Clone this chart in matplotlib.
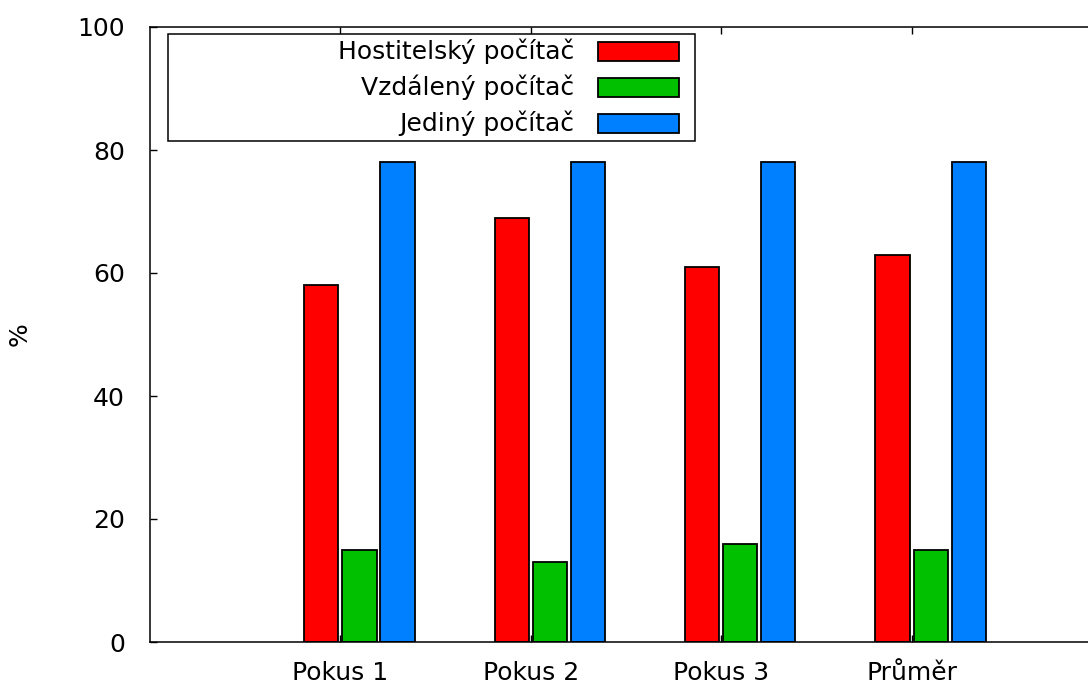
import matplotlib
matplotlib.use('Agg')
import matplotlib.pyplot as plt
from matplotlib.patches import Rectangle
import numpy as np

categories = ['Pokus 1', 'Pokus 2', 'Pokus 3', 'Průměr']
series_names = ['Hostitelský počítač', 'Vzdálený počítač', 'Jediný počítač']
hostitelsky = [58, 69, 61, 63]
vzdaleny = [15, 13, 16, 15]
jediny = [78, 78, 78, 78]
colors = ['#ff0000', '#00c000', '#0080ff']

W, H = 1088, 688
plt.rcParams['font.family'] = ['DejaVu Sans']
plt.rcParams['font.size'] = 18

fig = plt.figure(figsize=(W / 100, H / 100), dpi=100)
# plot area runs past the right edge of the image
ax = fig.add_axes([150 / W, 46 / H, 952 / W, 615 / H])

x = np.arange(len(categories))
offsets = [-0.1, 0.1, 0.3]
width = 0.18
for vals, off, c in zip([hostitelsky, vzdaleny, jediny], offsets, colors):
    ax.bar(x + off, vals, width, color=c, edgecolor='black', linewidth=1.3, zorder=2)

ax.set_xlim(-1, 4)
ax.set_ylim(0, 100)
ax.set_xticks(x)
ax.set_xticklabels(categories)
ax.set_yticks(range(0, 101, 20))
ax.tick_params(axis='both', direction='in', length=5, width=1, top=True, right=True)
ax.tick_params(axis='y', pad=18)
ax.tick_params(axis='x', pad=14)
for s in ax.spines.values():
    s.set_linewidth(1.1)

ax.set_ylabel('%', va='center', ha='center')
ax.yaxis.set_label_coords(-130 / 952, 0.5)


def fx(px):
    return px / W


def fy(py):
    return 1 - py / H


# legend box with right-aligned labels and swatches on the right
fig.patches.append(Rectangle((fx(168), fy(141)), fx(695) - fx(168), fy(34) - fy(141),
                             transform=fig.transFigure, facecolor='white',
                             edgecolor='black', linewidth=1.1, zorder=5))
row_y = [51.5, 87.5, 123.5]
for name, c, ry in zip(series_names, colors, row_y):
    fig.text(fx(574), fy(ry), name, ha='right', va='center', zorder=6)
    fig.patches.append(Rectangle((fx(598), fy(ry + 9.5)), fx(679) - fx(598), 19 / H,
                                 transform=fig.transFigure, facecolor=c,
                                 edgecolor='black', linewidth=1.3, zorder=6))

fig.savefig('out.png', dpi=100)
